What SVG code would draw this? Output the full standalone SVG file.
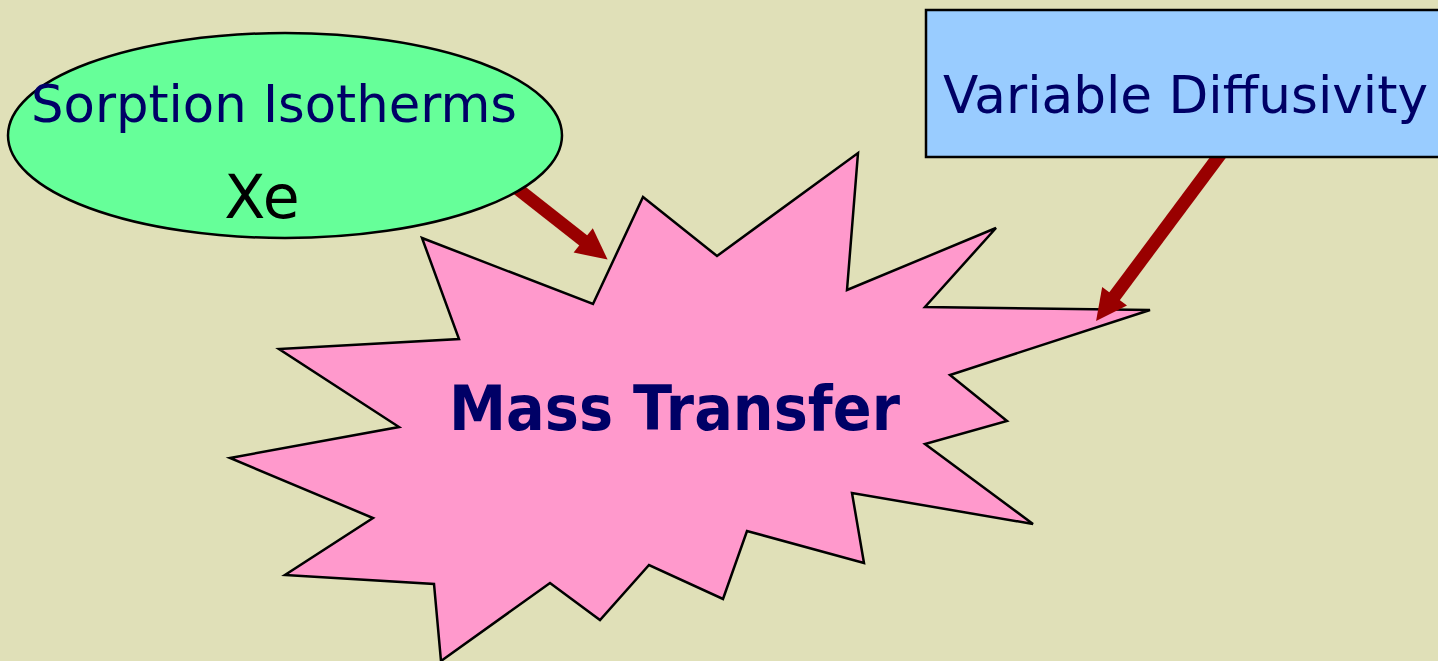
<svg xmlns="http://www.w3.org/2000/svg" width="1438" height="661" viewBox="0 0 1438 661">
<style>
.shape{stroke:#000;stroke-width:2.5;stroke-linejoin:miter}
.lbl{font-family:"DejaVu Sans",Verdana,sans-serif;fill:#000066}
.conn{stroke:#990000;stroke-width:13;fill:none}
</style>
<defs>
<marker id="ah" markerUnits="userSpaceOnUse" viewBox="0 -16 32 32" markerWidth="32" markerHeight="32" refX="1" refY="0" orient="auto" overflow="visible">
<path d="M0,-15.5 L31,0 L0,15.5 Z" fill="#990000"/>
</marker>
</defs>
<rect width="1438" height="661" fill="#E0E0B8"/>
<g id="mass-transfer">
<polygon class="shape" fill="#FF99CC" points="643,197 717,256 858,153 847,290 996,228 925,307 1150,310 950,375 1007,421 925,444 1033,524 852,493 864,563 747,531 723,599 649,565 600,620 550,583 441,661 434,584 285,575 373,518 230,458 399,427 279,349 459,339 422,238 593,304"/>
<text class="lbl" x="449" y="430" font-size="62" font-weight="bold" textLength="451" lengthAdjust="spacingAndGlyphs">Mass Transfer</text>
</g>
<g id="connectors">
<line class="conn" x1="500" y1="175" x2="584" y2="241" marker-end="url(#ah)"/>
<line class="conn" x1="1228" y1="144" x2="1114" y2="297" marker-end="url(#ah)"/>
</g>
<g id="sorption-isotherms">
<ellipse class="shape" stroke-width="2" fill="#66FF99" cx="285" cy="135.5" rx="277" ry="102.5"/>
<text class="lbl" x="31" y="122" font-size="51" textLength="486" lengthAdjust="spacingAndGlyphs">Sorption Isotherms</text>
<text x="262" y="218" font-size="60" text-anchor="middle" font-family="DejaVu Sans,Verdana,sans-serif" fill="#000">Xe</text>
</g>
<g id="variable-diffusivity">
<rect class="shape" fill="#99CCFF" x="926" y="10" width="520" height="147"/>
<text class="lbl" x="943" y="113" font-size="51" textLength="485" lengthAdjust="spacingAndGlyphs">Variable Diffusivity</text>
</g>
</svg>
